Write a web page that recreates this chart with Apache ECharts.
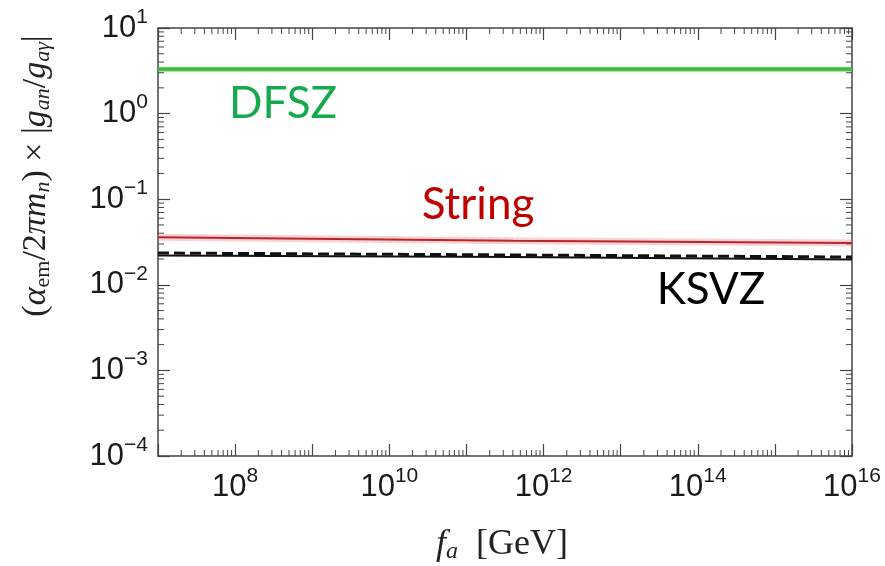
<!DOCTYPE html>
<html>
<head>
<meta charset="utf-8">
<script src="https://cdn.jsdelivr.net/npm/echarts@6/dist/echarts.min.js"></script>
<style>
  html, body { margin: 0; padding: 0; background: #fff; }
  #chart { width: 885px; height: 566px; }
</style>
</head>
<body>
<div id="chart"></div>
<script>
const faPoints = [1e7, 4e11, 1e16];
const dfsz = [3.3, 3.3, 3.3];
const stringBand = [0.036, 0.0327, 0.0308];
const ksvzDashed = [0.0235, 0.0223, 0.0211];
const ksvz = [0.022, 0.0211, 0.0198];

const xMin = 1e7, xMax = 1e16;
const yMin = 1e-4, yMax = 10;
const xLabelExps = [8, 10, 12, 14, 16];
const yLabelExps = [1, 0, -1, -2, -3, -4];

const pairs = (ys) => faPoints.map((x, i) => [x, ys[i]]);
const expOf = (v) => Math.round(Math.log10(v));
const supText = (e) => (e < 0 ? '\u2212' + (-e) : String(e));

const labelRich = {
  b: { fontFamily: 'Liberation Sans', fontSize: 31, color: '#1a1a1a' },
  s: { fontFamily: 'Liberation Sans', fontSize: 21, color: '#1a1a1a', padding: [0, 0, 22, 0] }
};

const chart = echarts.init(document.getElementById('chart'));

const axisLine = { show: true, onZero: false, lineStyle: { color: '#444', width: 1.5 } };
const majorTick = { show: true, inside: true, length: 12, lineStyle: { color: '#444', width: 1.2 } };

const option = {
  animation: false,
  backgroundColor: '#fff',
  grid: { left: 158, right: 33, top: 28, bottom: 110 },
  xAxis: [
    {
      type: 'log', logBase: 10, min: xMin, max: xMax,
      axisLine: axisLine, axisTick: majorTick, splitLine: { show: false },
      axisLabel: {
        margin: 10,
        formatter: (v) => {
          const e = expOf(v);
          return xLabelExps.includes(e) ? '{b|10}{s|' + supText(e) + '}' : '';
        },
        rich: labelRich
      }
    },
    {
      type: 'log', logBase: 10, min: xMin, max: xMax, position: 'top',
      axisLine: axisLine, axisTick: majorTick, splitLine: { show: false },
      axisLabel: { show: false }
    }
  ],
  yAxis: [
    {
      type: 'log', logBase: 10, min: yMin, max: yMax,
      axisLine: axisLine, axisTick: majorTick, splitLine: { show: false },
      axisLabel: {
        margin: 10,
        formatter: (v) => {
          const e = expOf(v);
          return yLabelExps.includes(e) ? '{b|10}{s|' + supText(e) + '}' : '';
        },
        rich: labelRich
      }
    },
    {
      type: 'log', logBase: 10, min: yMin, max: yMax, position: 'right',
      axisLine: axisLine, axisTick: majorTick, splitLine: { show: false },
      axisLabel: { show: false }
    }
  ],
  series: [
    {
      // minor log ticks on all four sides
      type: 'custom', silent: true, clip: false, z: 1,
      data: [[xMin, 1]],
      renderItem: (params, api) => {
        const children = [];
        const style = { stroke: '#444', lineWidth: 1 };
        const bottom = api.coord([xMin, yMin])[1];
        const top = api.coord([xMin, yMax])[1];
        const left = api.coord([xMin, yMin])[0];
        const right = api.coord([xMax, yMin])[0];
        for (let e = 7; e < 16; e++) {
          for (let k = 2; k <= 9; k++) {
            const x = api.coord([k * Math.pow(10, e), yMin])[0];
            children.push({ type: 'line', shape: { x1: x, y1: bottom, x2: x, y2: bottom - 6 }, style });
            children.push({ type: 'line', shape: { x1: x, y1: top, x2: x, y2: top + 6 }, style });
          }
        }
        for (let e = -4; e < 1; e++) {
          for (let k = 2; k <= 9; k++) {
            const y = api.coord([xMin, k * Math.pow(10, e)])[1];
            children.push({ type: 'line', shape: { x1: left, y1: y, x2: left + 6, y2: y }, style });
            children.push({ type: 'line', shape: { x1: right, y1: y, x2: right - 6, y2: y }, style });
          }
        }
        return { type: 'group', children };
      }
    },
    {
      name: 'DFSZ', type: 'line', showSymbol: false, z: 3,
      data: pairs(dfsz),
      lineStyle: { color: '#45b845', width: 4, shadowColor: 'rgba(80,190,80,0.5)', shadowBlur: 3 }
    },
    {
      name: 'String band', type: 'line', showSymbol: false, z: 2,
      data: pairs(stringBand),
      lineStyle: { color: 'rgba(232,130,130,0.35)', width: 7 }
    },
    {
      name: 'String', type: 'line', showSymbol: false, z: 3,
      data: pairs(stringBand),
      lineStyle: { color: '#b8262c', width: 2 }
    },
    {
      name: 'KSVZ dashed', type: 'line', showSymbol: false, z: 3,
      data: pairs(ksvzDashed),
      lineStyle: { color: '#111', width: 3, type: [11, 5] }
    },
    {
      name: 'KSVZ', type: 'line', showSymbol: false, z: 3,
      data: pairs(ksvz),
      lineStyle: { color: '#111', width: 2 }
    }
  ],
  graphic: [
    {
      type: 'text', x: 283, y: 104, z: 10,
      style: { text: 'DFSZ', fill: '#16a94e', font: '44px Lato', align: 'center', verticalAlign: 'middle' }
    },
    {
      type: 'text', x: 478, y: 205, z: 10,
      style: { text: 'String', fill: '#c00000', font: '44px Lato', align: 'center', verticalAlign: 'middle' }
    },
    {
      type: 'text', x: 711, y: 290, z: 10,
      style: { text: 'KSVZ', fill: '#000', font: '44px Lato', align: 'center', verticalAlign: 'middle' }
    },
    {
      type: 'text', x: 502, y: 545, z: 10,
      style: {
        text: '{i|f}{sub|a}{r|  [GeV]}',
        align: 'center', verticalAlign: 'middle',
        rich: {
          i: { fontFamily: 'Liberation Serif', fontStyle: 'italic', fontSize: 36, fill: '#222' },
          sub: { fontFamily: 'Liberation Serif', fontStyle: 'italic', fontSize: 24, fill: '#222', padding: [14, 0, 0, 0] },
          r: { fontFamily: 'Liberation Serif', fontSize: 36, fill: '#222' }
        }
      }
    },
    {
      type: 'text', x: 36, y: 176, rotation: Math.PI / 2, z: 10,
      style: {
        text: '{r|(}{i|\u03b1}{sr|em}{r|/2}{i|\u03c0m}{sub|n}{r|) \u00d7 |}{i|g}{sub|an}{r|/}{i|g}{sub|a\u03b3}{r||}',
        align: 'center', verticalAlign: 'middle',
        rich: {
          r: { fontFamily: 'Liberation Serif', fontSize: 34, fill: '#222' },
          i: { fontFamily: 'Liberation Serif', fontStyle: 'italic', fontSize: 34, fill: '#222' },
          sub: { fontFamily: 'Liberation Serif', fontStyle: 'italic', fontSize: 22, fill: '#222', padding: [14, 0, 0, 0] },
          sr: { fontFamily: 'Liberation Serif', fontSize: 22, fill: '#222', padding: [14, 0, 0, 0] }
        }
      }
    }
  ]
};

chart.setOption(option);
window.addEventListener('resize', () => chart.resize());
</script>
</body>
</html>
